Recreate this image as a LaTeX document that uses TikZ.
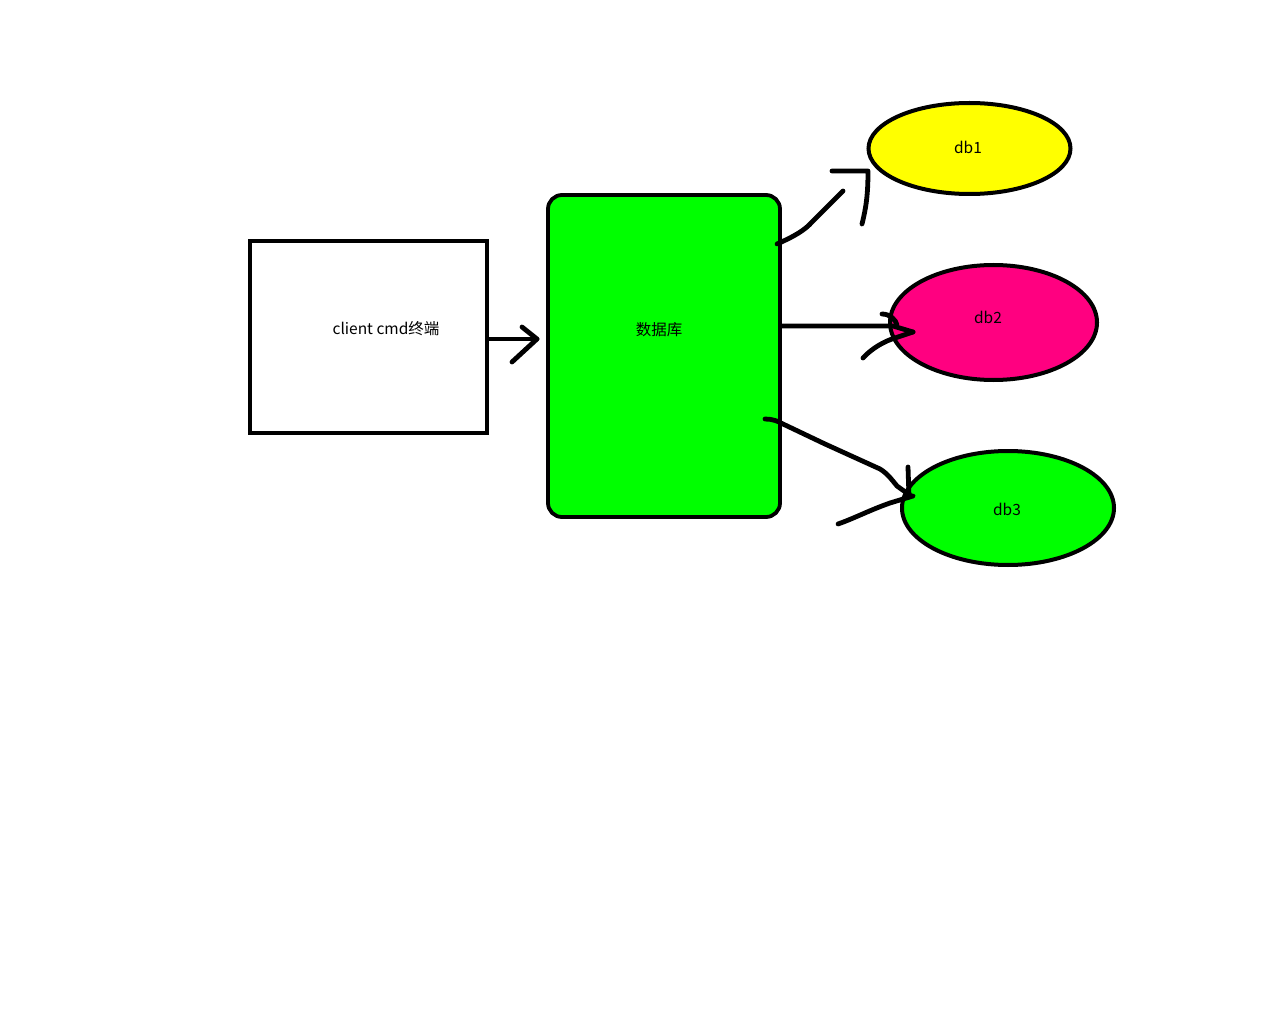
\documentclass[tikz,border=0pt]{standalone}
\usepackage{fontspec}
\setmainfont{Noto Sans CJK SC}
\usetikzlibrary{shapes.geometric}
\definecolor{dbgreen}{RGB}{0,255,0}
\definecolor{dbyellow}{RGB}{255,255,0}
\definecolor{dbpink}{RGB}{255,0,128}
\begin{document}
\begin{tikzpicture}[x=1pt,y=-1pt,
  box/.style={draw=black, line width=3.8pt, fill=white, inner sep=0pt},
  dbbox/.style={draw=black, line width=3.8pt, fill=dbgreen, rounded corners=14pt, inner sep=0pt},
  dbell/.style={ellipse, draw=black, line width=4pt, inner sep=0pt},
  lbl/.style={font=\fontsize{15.5}{19}\selectfont, text=black, inner sep=0pt},
  stroke/.style={draw=black, line width=4.8pt, line cap=round, line join=round}]
\useasboundingbox[fill=white] (0,0) rectangle (1280,1024);
% shapes
\node[box, minimum width=237pt, minimum height=192pt] (client) at (368.5,337) {};
\node[dbbox, minimum width=232pt, minimum height=322pt] (db) at (664,356) {};
\node[dbell, fill=dbyellow, minimum width=202pt, minimum height=91pt] (db1) at (969.5,148.5) {};
\node[dbell, fill=dbpink, minimum width=207pt, minimum height=115pt] (db2) at (993.5,322.5) {};
\node[dbell, fill=dbgreen, minimum width=212pt, minimum height=114pt] (db3) at (1008,508) {};
% labels
\node[lbl] (clientlbl) at (386,329) {client cmd终端};
\node[lbl] (dblbl) at (659,330) {数据库};
\node[lbl] (db1lbl) at (968,147) {db1};
\node[lbl] (db2lbl) at (988,317) {db2};
\node[lbl] (db3lbl) at (1007,509) {db3};
% arrow client -> db
\coordinate (a1s) at (client.east |- 0,339);
\coordinate (a1t) at (537,339);
\coordinate (a1u) at (522,327);
\coordinate (a1d) at (512,362);
\draw[stroke] (a1s) -- (a1t);
\draw[stroke] (a1u) -- (a1t) -- (a1d);
% arrow db -> db1
\coordinate (a2s) at (777,244);
\coordinate (a2e) at (843,191);
\coordinate (a2u) at (832,171);
\coordinate (a2c) at (868,171);
\coordinate (a2d) at (862,224);
\draw[stroke] (a2s) .. controls (795,236) and (805,230) .. (812,222) -- (a2e);
\draw[stroke] (a2u) -- (a2c) .. controls (868,195) and (866,208) .. (a2d);
% arrow db -> db2
\coordinate (a3s) at (db.east |- 0,326);
\coordinate (a3t) at (913,332);
\coordinate (a3u) at (882,314);
\coordinate (a3d) at (863,358);
\draw[stroke] (a3s) -- (893,326) -- (a3t);
\draw[stroke] (a3u) .. controls (890,314) and (896,320) .. (897,325);
\draw[stroke] (a3t) -- (895,338) .. controls (885,341) and (872,348) .. (a3d);
% arrow db -> db3
\coordinate (a4s) at (765,419);
\coordinate (a4t) at (911,496);
\coordinate (a4u) at (908,467);
\coordinate (a4d) at (838,524);
\draw[stroke] (a4s) .. controls (772,419) and (778,421) .. (783,424)
  -- (825,444) -- (880,469) .. controls (888,474) and (892,480) .. (897,486) -- (a4t);
\draw[stroke] (a4u) -- (909,497);
\draw[stroke] (913,496) -- (890,503) .. controls (870,510) and (855,518) .. (a4d);
\end{tikzpicture}
\end{document}
